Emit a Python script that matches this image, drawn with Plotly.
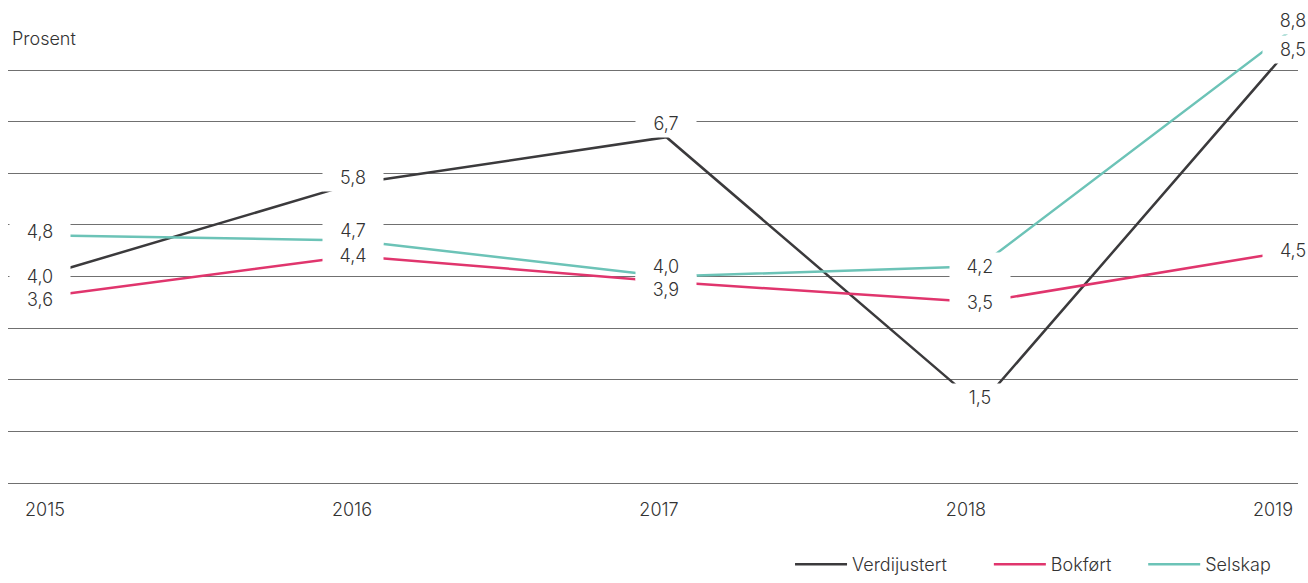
import plotly.graph_objects as go

years = ["2015", "2016", "2017", "2018", "2019"]
verdijustert = [4.0, 5.8, 6.7, 1.5, 8.5]
bokfort = [3.6, 4.4, 3.9, 3.5, 4.5]
selskap = [4.8, 4.7, 4.0, 4.2, 8.8]

series = [
    ("Verdijustert", verdijustert, "#3b3a3c"),
    ("Bokført", bokfort, "#e0356d"),
    ("Selskap", selskap, "#6cc3b7"),
]

# label vertical nudges (px) to keep labels apart
shifts = {
    "Verdijustert": [0, 6, 14, 8, -5],
    "Bokført": [-2, 0, -8, 0, 0],
    "Selskap": [4, 10, 10, 0, 8],
}

FONT = "Inter, Roboto, 'Open Sans', sans-serif"
TXT = "#333333"
FS = 18

xpos = list(range(len(years)))
legend_ids = ["legend", "legend2", "legend3"]
legend_x = [0.604, 0.756, 0.874]

fig = go.Figure()
for (name, vals, col), lid in zip(series, legend_ids):
    fig.add_trace(go.Scatter(x=xpos, y=vals, mode="lines", name=name,
                             line=dict(color=col, width=2.5),
                             legend=lid, hoverinfo="skip"))

# invisible trace carrying the year tick axis
fig.add_trace(go.Scatter(x=xpos, y=[None] * len(years),
                         xaxis="x2", showlegend=False, hoverinfo="skip",
                         mode="lines"))

ann = []
for name, vals, col in series:
    for i, v in enumerate(vals):
        ann.append(dict(x=xpos[i], y=v, xref="x", yref="y",
                        text=f"{v:.1f}".replace(".", ","),
                        showarrow=False, bgcolor="white",
                        width=58, height=25, yshift=shifts[name][i],
                        font=dict(family=FONT, size=FS, color=TXT, weight=300)))
ann.append(dict(x=0.0016, y=0.927, xref="paper", yref="paper", text="Prosent",
                xanchor="left", yanchor="middle", showarrow=False,
                font=dict(family=FONT, size=FS, color=TXT, weight=300)))

leg_common = dict(orientation="h", xanchor="left", xref="container",
                  yref="container", y=-0.028, yanchor="bottom", itemwidth=52,
                  font=dict(family=FONT, size=FS, color=TXT, weight=300),
                  bgcolor="rgba(0,0,0,0)")

layout_legends = {lid: dict(leg_common, x=lx) for lid, lx in zip(legend_ids, legend_x)}

fig.update_layout(
    width=1308, height=583,
    margin=dict(l=8, r=10, t=3, b=100),
    paper_bgcolor="white", plot_bgcolor="white",
    font=dict(family=FONT, size=FS, color=TXT, weight=300),
    xaxis=dict(range=[-0.102, 4.016], showgrid=False,
               showticklabels=False, zeroline=False, showline=False),
    xaxis2=dict(overlaying="x", side="bottom", range=[-0.1205, 4.0815],
                tickvals=xpos, ticktext=years,
                showgrid=False, zeroline=False, showline=False,
                ticks="", ticklabelstandoff=14,
                tickfont=dict(family=FONT, size=FS, color=TXT, weight=300)),
    yaxis=dict(range=[0, 9.3], tickvals=list(range(0, 9)),
               showticklabels=False, showgrid=True, gridcolor="#707070",
               gridwidth=1, zeroline=True, zerolinecolor="#707070",
               zerolinewidth=1, showline=False),
    showlegend=True,
    annotations=ann,
    **layout_legends,
)

fig.write_html("out.html", config={"displayModeBar": False},
               post_script="document.body.style.margin='0';")
